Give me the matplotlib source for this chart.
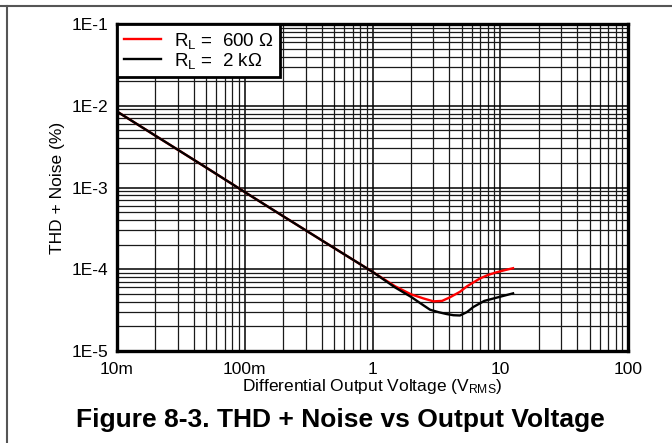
import matplotlib
matplotlib.use("Agg")
import matplotlib.pyplot as plt
from matplotlib.lines import Line2D
from matplotlib.ticker import FixedLocator, LogLocator, NullFormatter

plt.rcParams['font.family'] = ['Liberation Sans', 'DejaVu Sans']
plt.rcParams['mathtext.fontset'] = 'custom'
plt.rcParams['mathtext.rm'] = 'Liberation Sans'
plt.rcParams['mathtext.it'] = 'Liberation Sans'

# data (V_RMS, THD+N %)
v_600 = [0.01, 0.02, 0.05, 0.1, 0.2, 0.5, 1.0, 1.5, 2.0, 2.5, 3.0, 3.5, 4.0,
         4.84, 5.5, 6.93, 8.0, 9.4, 11.0, 12.6]
thd_600 = [8.5e-3, 4.3e-3, 1.75e-3, 8.8e-4, 4.45e-4, 1.82e-4, 9.3e-5, 6.2e-5,
           4.94e-5, 4.4e-5, 4.05e-5, 4.1e-5, 4.5e-5, 5.3e-5, 6.2e-5, 7.7e-5,
           8.5e-5, 9.2e-5, 9.8e-5, 1.03e-4]
v_2k = [0.01, 0.02, 0.05, 0.1, 0.2, 0.5, 1.0, 1.5, 2.0, 2.5, 2.82, 3.3, 3.81,
        4.3, 4.84, 5.5, 6.15, 7.5, 9.4, 11.0, 12.6]
thd_2k = [8.5e-3, 4.3e-3, 1.75e-3, 8.8e-4, 4.45e-4, 1.82e-4, 9.3e-5, 6.0e-5,
          4.6e-5, 3.63e-5, 3.2e-5, 2.98e-5, 2.83e-5, 2.74e-5, 2.72e-5, 3.0e-5,
          3.45e-5, 4.1e-5, 4.5e-5, 4.8e-5, 5.07e-5]

x_ticks = [0.01, 0.1, 1, 10, 100]
x_labels = ['10m', '100m', '1', '10', '100']
y_ticks = [1e-5, 1e-4, 1e-3, 1e-2, 1e-1]
y_labels = ['1E-5', '1E-4', '1E-3', '1E-2', '1E-1']

fig = plt.figure(figsize=(6.72, 4.43), dpi=100)
ax = fig.add_axes([117 / 672, 1 - 351 / 443, 511 / 672, 327 / 443])

ax.plot(v_600, thd_600, color='#ff0000', lw=1.7, label='R$_\\mathrm{L}$ =  600 Ω', zorder=3)
ax.plot(v_2k, thd_2k, color='black', lw=1.7, label='R$_\\mathrm{L}$ =  2 kΩ', zorder=3)

ax.set_xscale('log')
ax.set_yscale('log')
ax.set_xlim(0.01, 100)
ax.set_ylim(1e-5, 1e-1)

ax.xaxis.set_major_locator(FixedLocator(x_ticks))
ax.set_xticklabels(x_labels)
ax.yaxis.set_major_locator(FixedLocator(y_ticks))
ax.set_yticklabels(y_labels)
ax.xaxis.set_minor_locator(LogLocator(base=10, subs=range(2, 10), numticks=20))
ax.yaxis.set_minor_locator(LogLocator(base=10, subs=range(2, 10), numticks=20))
ax.xaxis.set_minor_formatter(NullFormatter())
ax.yaxis.set_minor_formatter(NullFormatter())

ax.tick_params(which='both', length=0, labelsize=12.5)
ax.tick_params(axis='x', pad=8)
ax.tick_params(axis='y', pad=6)

ax.grid(True, which='major', color='black', lw=1.1)
ax.grid(True, which='minor', color='#1a1a1a', lw=0.9)
ax.set_axisbelow(True)

for s in ax.spines.values():
    s.set_linewidth(2.4)
    s.set_color('black')
    s.set_zorder(4)

ax.set_xlabel('Differential Output Voltage (V$_\\mathrm{RMS}$)', fontsize=12.5, labelpad=0)
ax.set_ylabel('THD + Noise (%)', fontsize=12.5, labelpad=5)

leg = ax.legend(loc='upper left', borderaxespad=0, fancybox=False, framealpha=1,
                edgecolor='black', fontsize=13.5, handlelength=2.0,
                borderpad=0.35, labelspacing=0.0, handletextpad=0.7)
leg.get_frame().set_linewidth(2.0)
leg.set_zorder(5)

fig.text(340 / 672, 1 - 420 / 443, 'Figure 8-3. THD + Noise vs Output Voltage',
         ha='center', va='center', fontsize=19, fontweight='bold')

# page frame lines
fig.add_artist(Line2D([0, 1], [1 - 6 / 443, 1 - 6 / 443], color='#555555', lw=1.5))
fig.add_artist(Line2D([7 / 672, 7 / 672], [0, 1 - 6 / 443], color='#555555', lw=1.5))

fig.savefig('out.png', dpi=100)
